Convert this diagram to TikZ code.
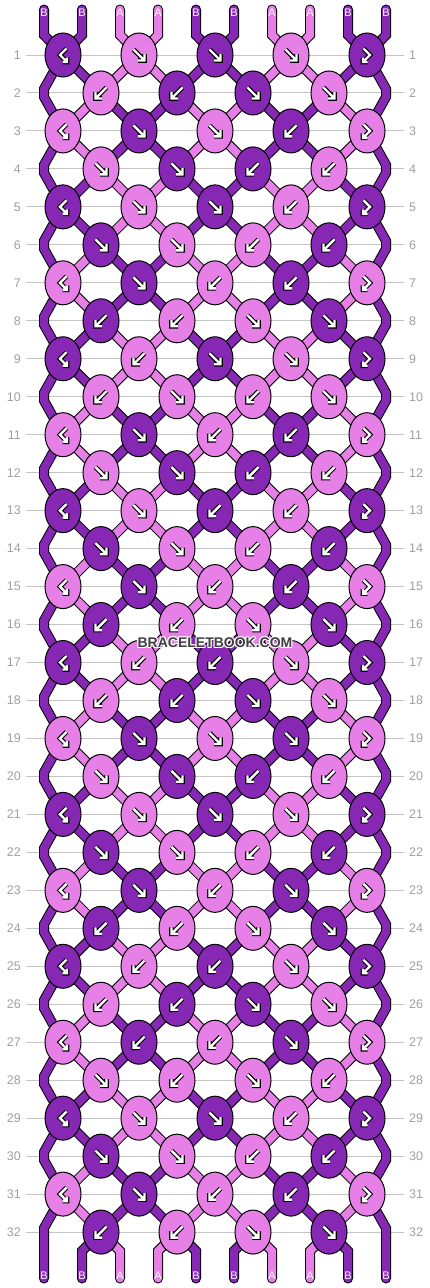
\documentclass[tikz,border=0pt]{standalone}
\usepackage{fontspec}
\setmainfont{Liberation Sans}
\usetikzlibrary{shapes.geometric}
\definecolor{cD}{HTML}{8628B4}
\definecolor{cP}{HTML}{E680E6}
\definecolor{rowline}{HTML}{C4C4C4}
\definecolor{rownum}{HTML}{A0A0A0}
\definecolor{wmtext}{HTML}{404040}
\pgfdeclarelayer{lines}
\pgfdeclarelayer{bands}
\pgfsetlayers{lines,bands,main}
\tikzset{
  knot/.style={ellipse, draw=black, line width=1pt, minimum width=36pt, minimum height=44pt, inner sep=0pt},
  arrout/.style={draw=black, line width=4.6pt},
  arrin/.style={draw=white, line width=2.4pt},
  strlab/.style={text=white, font=\fontsize{11}{11}\selectfont, inner sep=0pt},
  rowlab/.style={text=rownum, font=\fontsize{12.5}{12.5}\selectfont, inner sep=0pt},
  wm/.style={font=\bfseries\fontsize{14}{14}\selectfont, inner sep=0pt},
  pics/arrR/.style={code={
    \draw[arrout] (-5.5,-5.5) -- (4.5,4.5) (-1,5.5) -- (5.5,5.5) -- (5.5,-1);
    \draw[arrin] (-5.5,-5.5) -- (4.5,4.5) (-1,5.5) -- (5.5,5.5) -- (5.5,-1);}},
  pics/arrL/.style={code={
    \draw[arrout] (5.5,-5.5) -- (-4.5,4.5) (1,5.5) -- (-5.5,5.5) -- (-5.5,-1);
    \draw[arrin] (5.5,-5.5) -- (-4.5,4.5) (1,5.5) -- (-5.5,5.5) -- (-5.5,-1);}},
  pics/arrH/.style={code={
    \draw[arrout] (3.5,-6.5) -- (-3,0) -- (4,7) (-0.5,7) -- (4,7) -- (4,2.5);
    \draw[arrin] (3.5,-6.5) -- (-3,0) -- (4,7) (-0.5,7) -- (4,7) -- (4,2.5);}},
  pics/arrG/.style={code={
    \draw[arrout] (-3.5,-6.5) -- (3,0) -- (-4,7) (0.5,7) -- (-4,7) -- (-4,2.5);
    \draw[arrin] (-3.5,-6.5) -- (3,0) -- (-4,7) (0.5,7) -- (-4,7) -- (-4,2.5);}},
}
\newcommand\knotrow[2]{%
  \foreach \col/\typ [count=\ki from 0] in {#2}{%
    \pgfmathsetmacro\qx{((isodd(#1)==1) ? 63 : 101)+76*\ki}%
    \pgfmathsetmacro\qy{55+37.97*(#1-1)}%
    \node[knot, fill=c\col] (k-#1-\ki) at (\qx,\qy) {};%
    \edef\qtmp{\noexpand\pic at (k-#1-\ki.center) {arr\typ};}\qtmp
  }}
\newcommand\allbands{%
  \foreach \p in {0,...,9}{%
    \pgfmathtruncatemacro\qk{floor(\p/2)}%
    \pgfmathsetmacro\qc{{"D","D","P","P","D","D","P","P","D","D"}[\p]}%
    \draw[band=\qc,line cap=round] (t-\p) -- (tb-\p) -- (k-1-\qk.center);}%
  \foreach \r in {1,...,31}{%
    \pgfmathtruncatemacro\qn{\r+1}%
    \pgfmathtruncatemacro\qs{(mod(\r,4)>1) ? 10 : 0}%
    \foreach \p in {1,...,8}{%
      \pgfmathtruncatemacro\qa{(isodd(\r)==1) ? floor(\p/2) : floor((\p-1)/2)}%
      \pgfmathtruncatemacro\qb{(isodd(\qn)==1) ? floor(\p/2) : floor((\p-1)/2)}%
      \pgfmathsetmacro\qc{{"D","D","P","P","D","D","P","P","D","D","D","P","D","D","P","P","D","D","P","D"}[\qs+\p]}%
      \draw[band=\qc] (k-\r-\qa.center) -- (k-\qn-\qb.center);}}%
  \foreach \ee in {2,4,...,30}{%
    \pgfmathtruncatemacro\qa{\ee-1}%
    \pgfmathtruncatemacro\qb{\ee+1}%
    \draw[band=D] (k-\qa-0.center) -- (eL-\ee-a) -- (eL-\ee-b) -- (k-\qb-0.center);
    \draw[band=D] (k-\qa-4.center) -- (eR-\ee-a) -- (eR-\ee-b) -- (k-\qb-4.center);}%
  \draw[band=D,line cap=round] (k-31-0.center) -- (eL-32-a) -- (b-0);
  \draw[band=D,line cap=round] (k-31-4.center) -- (eR-32-a) -- (b-9);
  \foreach \p in {1,...,8}{%
    \pgfmathtruncatemacro\qb{floor((\p-1)/2)}%
    \pgfmathsetmacro\qc{{"D","D","P","P","D","D","P","P","D","D"}[\p]}%
    \draw[band=\qc,line cap=round] (k-32-\qb.center) -- (bb-\p) -- (b-\p);}%
}
\begin{document}
\begin{tikzpicture}[x=1pt,y=-1pt]
\useasboundingbox (0,0) rectangle (430,1288);
% coordinates
\foreach \p in {0,...,9}{%
  \pgfmathsetmacro\qx{44+38*\p}%
  \coordinate (t-\p) at (\qx,9.5);
  \coordinate (tb-\p) at (\qx,35);
  \coordinate (bb-\p) at (\qx,1251);
  \coordinate (b-\p) at (\qx,1278.5);
}
\foreach \ee in {2,4,...,32}{%
  \pgfmathsetmacro\qy{55+37.97*(\ee-1)}%
  \coordinate (eL-\ee-a) at (44,\qy-4);
  \coordinate (eL-\ee-b) at (44,\qy+4);
  \coordinate (eR-\ee-a) at (386,\qy-4);
  \coordinate (eR-\ee-b) at (386,\qy+4);
}
% background, row lines and numbers
\begin{pgfonlayer}{lines}
  \fill[white] (0,0) rectangle (430,1288);
  \foreach \r in {1,...,32}{%
    \pgfmathsetmacro\qy{55+37.97*(\r-1)}%
    \draw[rowline, line width=1pt] (26,\qy) -- (404,\qy);
    \node[rowlab, anchor=east] (ln-\r) at (21,\qy) {\r};
    \node[rowlab, anchor=west] (rn-\r) at (409,\qy) {\r};
  }
\end{pgfonlayer}
% knots
\knotrow{1}{D/H,P/R,D/R,P/R,D/G}
\knotrow{2}{P/L,D/L,D/R,P/R}
\knotrow{3}{P/H,D/R,P/R,D/L,P/G}
\knotrow{4}{P/R,D/R,D/L,P/L}
\knotrow{5}{D/H,P/R,D/R,P/L,D/G}
\knotrow{6}{D/R,P/R,P/L,D/L}
\knotrow{7}{P/H,D/R,P/L,D/L,P/G}
\knotrow{8}{D/L,P/L,P/R,D/R}
\knotrow{9}{D/H,P/L,D/R,P/R,D/G}
\knotrow{10}{P/L,P/R,P/L,P/R}
\knotrow{11}{P/H,D/R,P/L,D/L,P/G}
\knotrow{12}{P/R,D/R,D/L,P/L}
\knotrow{13}{D/H,P/R,D/L,P/L,D/G}
\knotrow{14}{D/R,P/R,P/L,D/L}
\knotrow{15}{P/H,D/R,P/L,D/L,P/G}
\knotrow{16}{D/L,P/L,P/R,D/R}
\knotrow{17}{D/H,P/L,D/L,P/R,D/G}
\knotrow{18}{P/L,D/L,D/R,P/R}
\knotrow{19}{P/H,D/R,P/R,D/R,P/G}
\knotrow{20}{P/R,D/R,D/L,P/L}
\knotrow{21}{D/H,P/R,D/R,P/R,D/G}
\knotrow{22}{D/R,P/R,P/L,D/L}
\knotrow{23}{P/H,D/R,P/L,D/R,P/G}
\knotrow{24}{D/L,P/L,P/R,D/R}
\knotrow{25}{D/H,P/L,D/L,P/R,D/G}
\knotrow{26}{P/L,D/L,D/R,P/R}
\knotrow{27}{P/H,D/L,P/L,D/R,P/G}
\knotrow{28}{P/R,P/L,P/R,P/L}
\knotrow{29}{D/H,P/R,D/R,P/L,D/G}
\knotrow{30}{D/R,P/R,P/L,D/L}
\knotrow{31}{P/H,D/R,P/L,D/L,P/G}
\knotrow{32}{D/L,P/L,P/R,D/R}
% strings
\begin{pgfonlayer}{bands}
  \tikzset{band/.style={draw=black, line width=10pt}}
  \allbands
  \tikzset{band/.style={draw=c#1, line width=8pt}}
  \allbands
\end{pgfonlayer}
% string labels
\foreach \p in {0,...,9}{%
  \pgfmathsetmacro\qx{44+38*\p}%
  \pgfmathsetmacro\ql{{"B","B","A","A","B","B","A","A","B","B"}[\p]}%
  \node[strlab] (tl-\p) at (\qx,12.5) {\ql};
  \node[strlab] (bl-\p) at (\qx,1276) {\ql};
}
% watermark
\foreach \dx/\dy [count=\ki] in {-1/-1,-1/0,-1/1,0/-1,0/1,1/-1,1/0,1/1}{%
  \node[wm, text=white, opacity=0.85] (wmh-\ki) at (215+\dx,643+\dy) {BRACELETBOOK.COM};
}
\node[wm, text=wmtext] (wm) at (215,643) {BRACELETBOOK.COM};
\end{tikzpicture}
\end{document}
